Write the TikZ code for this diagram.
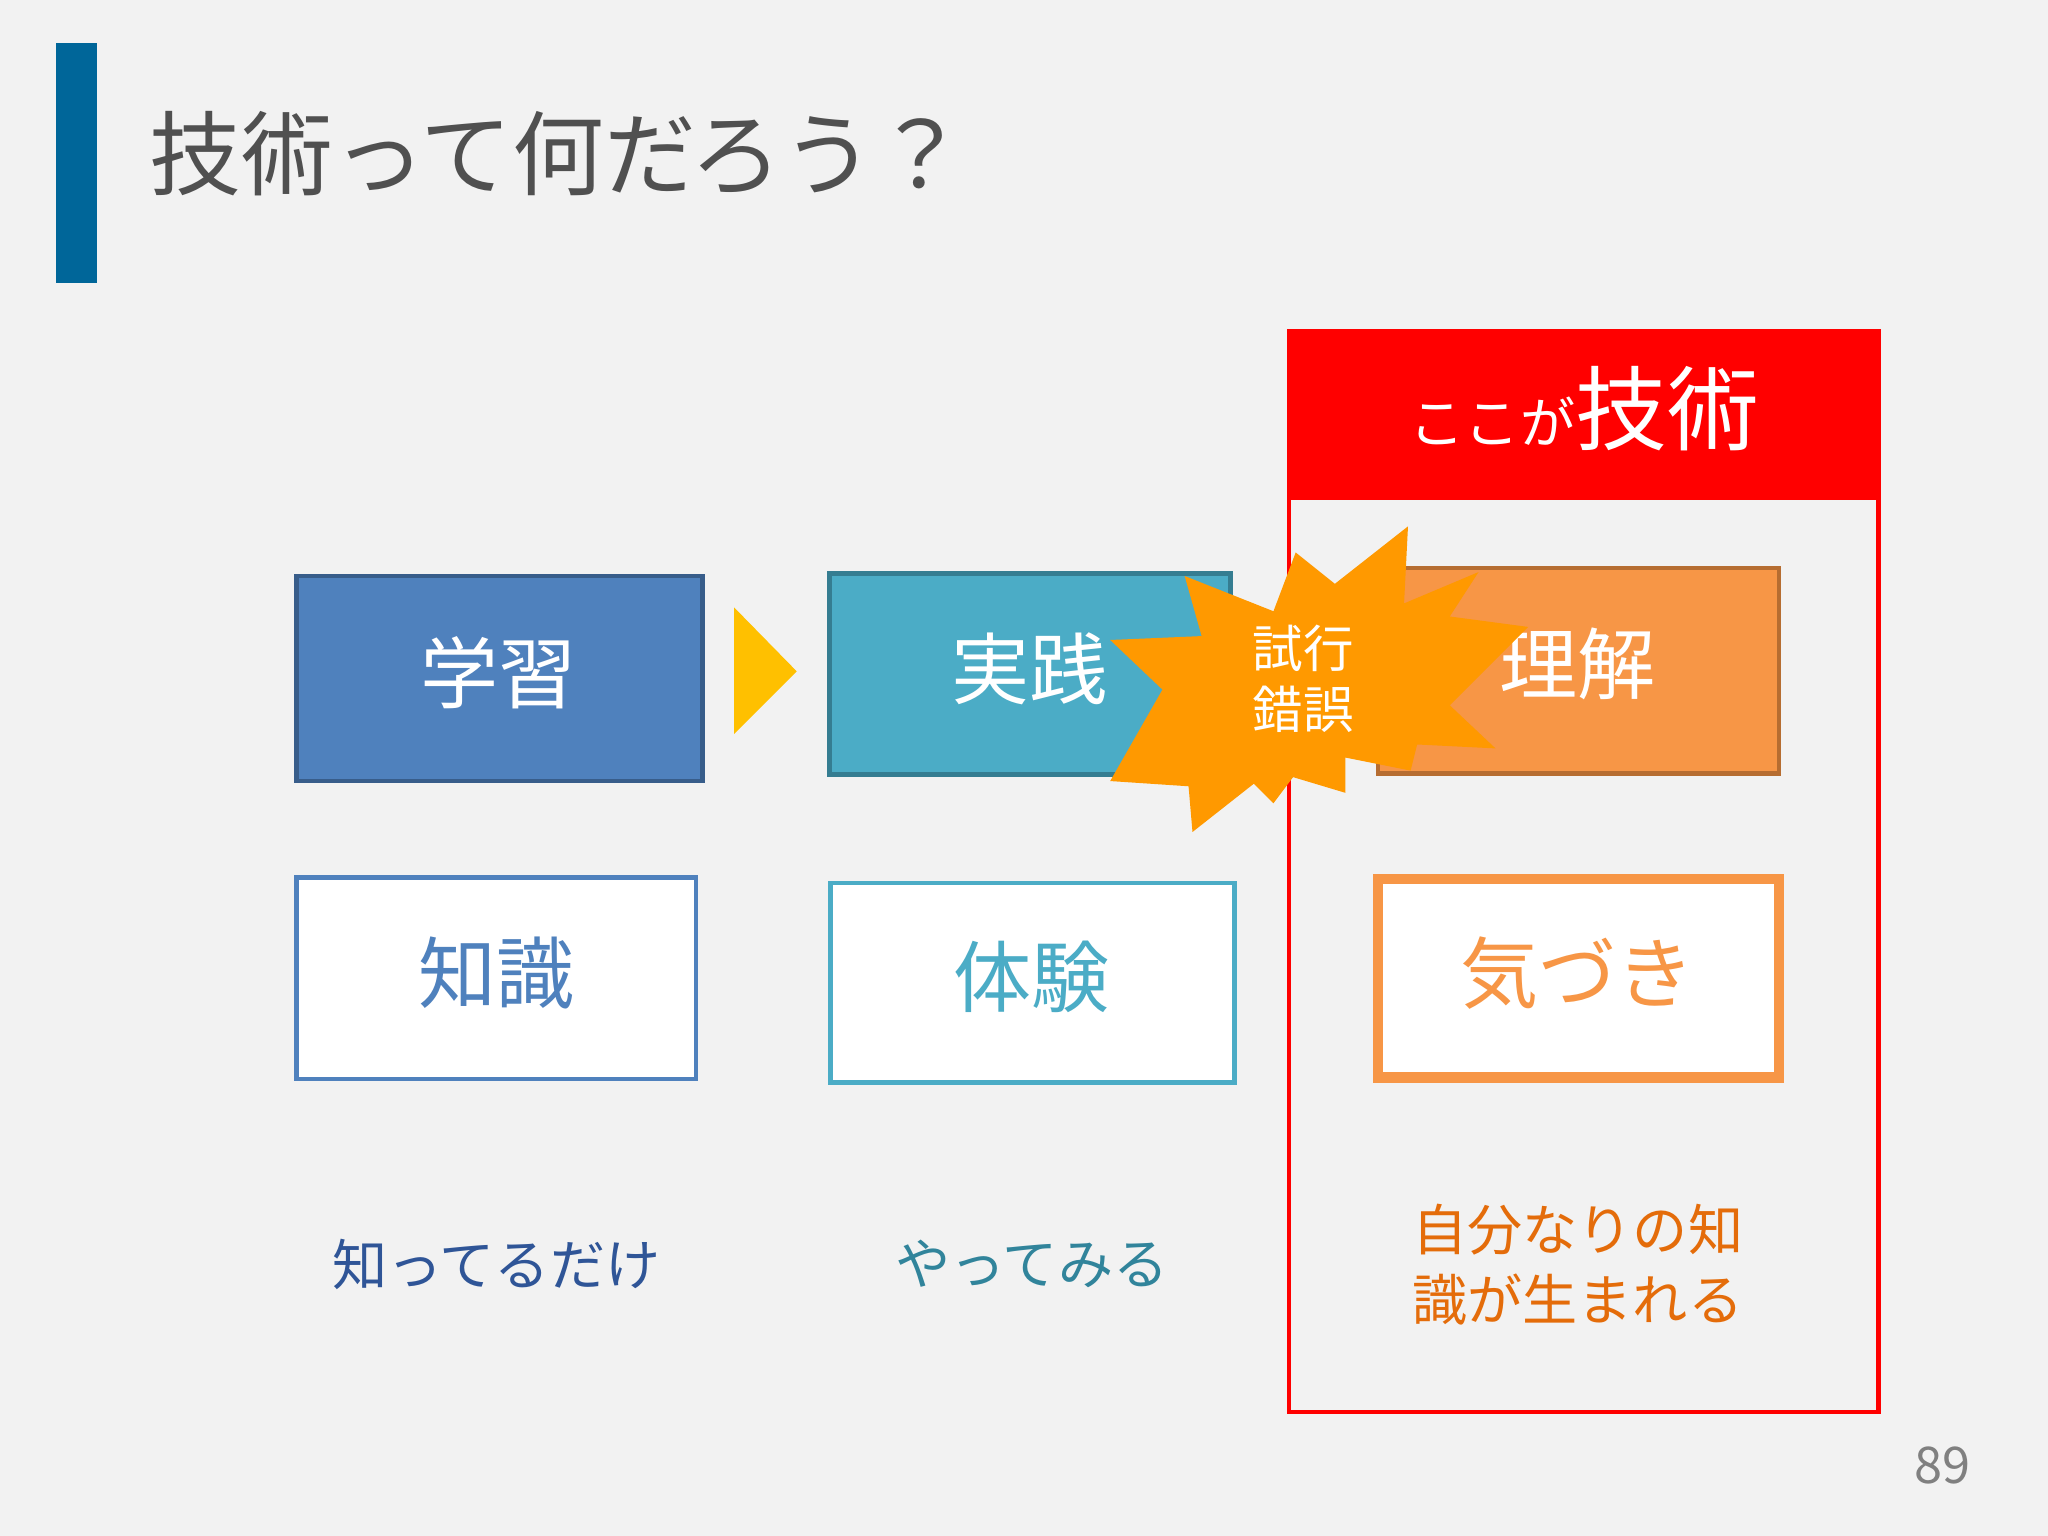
\documentclass[tikz,border=0pt]{standalone}
\usepackage{fontspec}
\setmainfont{Noto Sans CJK JP}
\definecolor{bg}{HTML}{F2F2F2}
\definecolor{barblue}{HTML}{006699}
\definecolor{tgray}{HTML}{505050}
\definecolor{b1}{HTML}{4F81BD}\definecolor{b1d}{HTML}{385D8A}
\definecolor{b2}{HTML}{4BACC6}\definecolor{b2d}{HTML}{357D91}
\definecolor{b3}{HTML}{F79646}\definecolor{b3d}{HTML}{B66D31}
\definecolor{star}{HTML}{FF9900}
\definecolor{ylw}{HTML}{FFC000}
\definecolor{t1}{HTML}{2F5597}\definecolor{t2}{HTML}{31849B}\definecolor{t3}{HTML}{E46C0A}
\newcommand{\fs}[2]{\fontsize{#1}{#2}\selectfont}
\begin{document}
\begin{tikzpicture}[x=0.01cm,y=-0.01cm,
  big/.style={font=\fs{17pt}{20pt}},
  small/.style={font=\fs{12pt}{15.3pt}}]
\useasboundingbox (0,0) rectangle (1568,1176);
\fill[bg] (0,0) rectangle (1568,1176);
\fill[barblue] (43,33) rectangle (74,217);
\node[anchor=west,text=tgray,font=\fs{20pt}{24pt}] (title) at (102,118) {技術って何だろう？};
% red area
\draw[red,line width=1pt] (987,254) rectangle (1438,1081);
\fill[red] (986,253) rectangle (1440,383);
\node[text=white] (head) at (1213,313) {{\fs{12pt}{14pt}ここが}{\fs{20pt}{24pt}技術}};
% top boxes
\draw[b1d,fill=b1,line width=1pt] (227,441) rectangle (538,598);
\node[text=white,big] (gaku) at (382,515) {学習};
\fill[ylw] (562,465) -- (610,514) -- (562,562) -- cycle;
\draw[b2d,fill=b2,line width=1pt] (635,439) rectangle (942,593);
\node[text=white,big] (jis) at (788,512) {実践};
\draw[b3d,fill=b3,line width=1pt] (1055,435) rectangle (1362,592);
\node[text=white,big] (rik) at (1208,508) {理解};
% starburst
\fill[star] (1078,403) -- (1022,447) -- (992,423) -- (975,468) -- (907,441) -- (920,487) -- (850,490)
  -- (890,528) -- (850,598) -- (910,602) -- (913,637) -- (960,600) -- (975,615) -- (990,595)
  -- (1030,607) -- (1030,580) -- (1080,590) -- (1085,570) -- (1145,573) -- (1110,540)
  -- (1170,480) -- (1110,472) -- (1132,438) -- (1075,462) -- cycle;
\node[text=white,font=\fs{11pt}{13.3pt},align=center] (star) at (998,520) {試行\\錯誤};
% lower boxes
\draw[b1,fill=white,line width=1pt] (227,672) rectangle (533,826);
\node[text=b1,big] (chi) at (380,745) {知識};
\draw[b2,fill=white,line width=1pt] (636,676) rectangle (945,829);
\node[text=b2,big] (tai) at (790,748) {体験};
\draw[b3,fill=white,line width=2.3pt] (1055,673) rectangle (1362,825);
\node[text=b3,big] (kiz) at (1208,745) {気づき};
% captions
\node[text=t1,small] (c1) at (380,968) {知ってるだけ};
\node[text=t2,small] (c2) at (790,968) {やってみる};
\node[text=t3,small,align=center] (c3) at (1208,968) {自分なりの知\\識が生まれる};
\node[text=gray,font=\fs{11pt}{13pt}] (pg) at (1487,1122) {89};
\end{tikzpicture}
\end{document}
